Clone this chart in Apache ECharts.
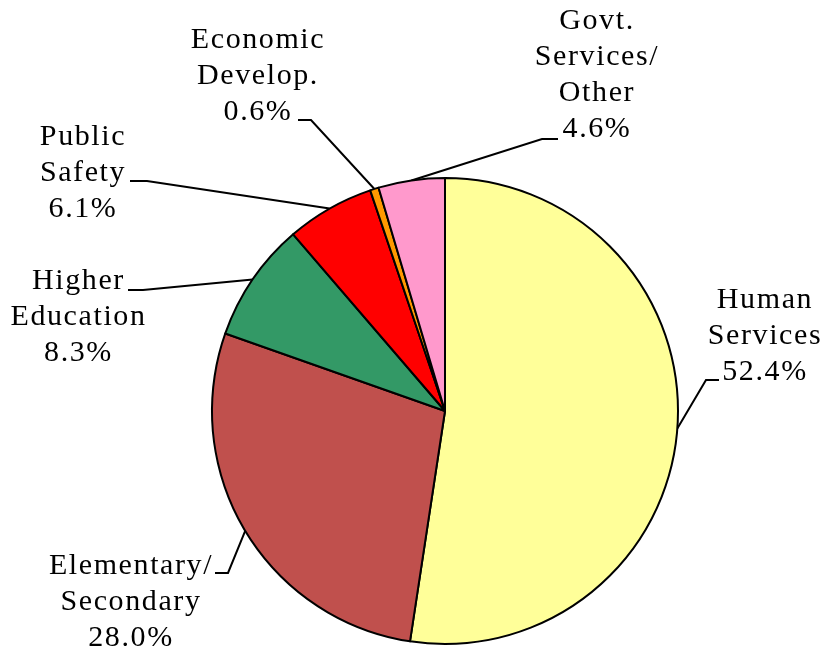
<!DOCTYPE html>
<html><head><meta charset="utf-8">
<script src="https://cdn.jsdelivr.net/npm/echarts@6/dist/echarts.min.js"></script>
<style>
html,body{margin:0;padding:0;background:#fff;}
#chart{width:821px;height:652px;}
</style></head><body><div id="chart"></div>
<script>
// Reference text is set with slightly wide tracking: apply letter spacing to canvas text.
(function () {
  const proto = CanvasRenderingContext2D.prototype;
  const d = Object.getOwnPropertyDescriptor(proto, 'font');
  if (d && 'letterSpacing' in proto) {
    Object.defineProperty(proto, 'font', {
      configurable: true,
      get: function () { return d.get.call(this); },
      set: function (v) { d.set.call(this, v); this.letterSpacing = '1.6px'; }
    });
  }
})();

const categories = ['Human\nServices', 'Elementary/\nSecondary', 'Higher\nEducation', 'Public\nSafety', 'Economic\nDevelop.', 'Govt.\nServices/\nOther'];
const shares = [52.4, 28.0, 8.3, 6.1, 0.6, 4.6];
const colors = ['#FFFF99', '#C0504D', '#339966', '#FF0000', '#FF9900', '#FF99CC'];
// label placement (layout only): [centerX, centerY, bendX, bendY, endX, endY]
const labelSpots = [
  [765, 336.5, 706, 380, 719, 380],
  [131, 602, 228, 573, 215, 573],
  [78.5, 317, 143, 290, 128, 290],
  [83, 173, 147, 181, 130, 181],
  [258, 76, 311, 120, 298, 120],
  [597, 75, 542, 139, 558, 139]
];

const chart = echarts.init(document.getElementById('chart'));
const data = categories.map((n, i) => ({name: n, value: shares[i], itemStyle: {color: colors[i]}}));
const CX = 445, CY = 411, R = 233;
chart.setOption({
  animation: false,
  backgroundColor: '#fff',
  series: [{
    type: 'pie',
    center: [CX, CY],
    radius: R,
    startAngle: 90,
    clockwise: true,
    avoidLabelOverlap: false,
    data: data,
    itemStyle: {borderColor: '#000', borderWidth: 2},
    emphasis: {disabled: true},
    label: {
      show: true,
      position: 'outer',
      formatter: p => p.name + '\n' + p.value.toFixed(1) + '%',
      fontFamily: 'Liberation Serif',
      fontSize: 30,
      lineHeight: 36,
      color: '#000',
      align: 'center'
    },
    labelLine: {show: true, length: 20, length2: 10, smooth: false, lineStyle: {color: '#000', width: 2}},
    labelLayout: function (params) {
      const s = labelSpots[params.dataIndex];
      let p0 = params.labelLinePoints && params.labelLinePoints[0];
      if (!p0) {
        let before = 0;
        for (let k = 0; k < params.dataIndex; k++) before += shares[k];
        const a = (before + shares[params.dataIndex] / 2) / 100 * 2 * Math.PI;
        p0 = [CX + R * Math.sin(a), CY - R * Math.cos(a)];
      }
      return {
        x: s[0], y: s[1], align: 'center', verticalAlign: 'middle',
        labelLinePoints: [p0, [s[2], s[3]], [s[4], s[5]]]
      };
    }
  }]
});
</script></body></html>
